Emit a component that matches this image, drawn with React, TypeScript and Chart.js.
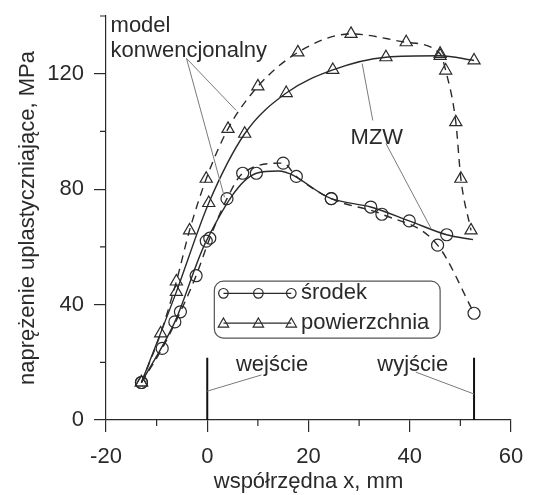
import React, { useEffect, useRef } from 'react';
import { Chart, registerables } from 'chart.js';

Chart.register(...registerables);

// ---- data ----
const surfaceConvX = [-13, -9.2, -6.1, -3.5, -0.2, 4.1, 10, 17.9, 28.4, 39.3, 46, 47.1, 49.1, 50.1, 52.1];
const surfaceConvY = [13, 30, 48, 65.7, 83.6, 100.9, 115.6, 127.4, 133.8, 130.9, 126.9, 121.1, 103.2, 83.6, 65.7];

const surfaceMzwX = [-13, -6.1, 0.3, 7.4, 15.6, 24.8, 35.3, 46, 52.7];
const surfaceMzwY = [13, 44.4, 75.2, 99.2, 113.3, 121.3, 125.7, 126.2, 124.6];

const centreConvX = [-13, -8.9, -5.3, -2.2, 0.5, 3.9, 7, 15, 17.6, 24.5, 34.5, 45.5, 52.7];
const centreConvY = [13, 24.8, 37.5, 50, 63, 76.7, 85.5, 89, 84.4, 76.7, 71.3, 60.6, 37];

const centreMzwX = [-13, -6.4, -0.2, 9.7, 14, 24.5, 32.3, 39.9, 47.3, 52.5];
const centreMzwY = [13, 34, 62, 85.5, 86.3, 76.7, 73.8, 69, 64.2, 62.5];
const centreMzwMarker = [1, 1, 1, 1, 0, 1, 1, 1, 1, 0];

const xMinorTicks = [-10, 10, 30, 50];
const yMinorTicks = [20, 60, 100, 140];
const zoneEdges = [0, 52.7];

const legendLabels = ['środek', 'powierzchnia'];
const noteModel = ['model', 'konwencjonalny'];
const noteMzw = 'MZW';
const noteEntry = 'wejście';
const noteExit = 'wyjście';

const xTitle = 'współrzędna x, mm';
const yTitle = 'naprężenie uplastyczniające, MPa';

const FAMILY = "'Liberation Sans', Arial, sans-serif";
const INK = '#2a2a2a';
const GUIDE = '#7a7a7a';

const pts = (xs: number[], ys: number[]) => xs.map((x, i) => ({ x, y: ys[i] }));

function drawTri(ctx: CanvasRenderingContext2D, x: number, y: number, r: number) {
  ctx.beginPath();
  ctx.moveTo(x, y - r);
  ctx.lineTo(x + 0.866 * r, y + 0.5 * r);
  ctx.lineTo(x - 0.866 * r, y + 0.5 * r);
  ctx.closePath();
  ctx.stroke();
}
function drawCirc(ctx: CanvasRenderingContext2D, x: number, y: number, r: number) {
  ctx.beginPath();
  ctx.arc(x, y, r, 0, Math.PI * 2);
  ctx.stroke();
}

const annotations = {
  id: 'annotations',
  afterDraw(chart: any) {
    const { ctx } = chart;
    const xs = chart.scales.x;
    const ys = chart.scales.y;
    const X = (v: number) => xs.getPixelForValue(v);
    const Y = (v: number) => ys.getPixelForValue(v);
    ctx.save();

    // minor ticks
    ctx.strokeStyle = INK;
    ctx.lineWidth = 1.2;
    ctx.beginPath();
    for (const v of yMinorTicks) {
      ctx.moveTo(X(-20) - 6, Y(v));
      ctx.lineTo(X(-20), Y(v));
    }
    for (const v of xMinorTicks) {
      ctx.moveTo(X(v), Y(0));
      ctx.lineTo(X(v), Y(0) + 6);
    }
    ctx.stroke();

    // entry / exit bars
    ctx.strokeStyle = '#111';
    ctx.lineWidth = 2;
    ctx.beginPath();
    for (const v of zoneEdges) {
      ctx.moveTo(X(v), Y(0));
      ctx.lineTo(X(v), Y(21.6));
    }
    ctx.stroke();

    // pointer lines
    ctx.strokeStyle = GUIDE;
    ctx.lineWidth = 1;
    ctx.beginPath();
    ctx.moveTo(X(-4.1), Y(125.3)); ctx.lineTo(X(5.7), Y(107.3));
    ctx.moveTo(X(-4.1), Y(125.3)); ctx.lineTo(X(3.4), Y(77.2));
    ctx.moveTo(X(32.7), Y(103.8)); ctx.lineTo(X(30.6), Y(123.5));
    ctx.moveTo(X(35.3), Y(95.8)); ctx.lineTo(X(44.2), Y(66.4));
    ctx.moveTo(X(10.7), Y(15.6)); ctx.lineTo(X(0), Y(10));
    ctx.moveTo(X(41.2), Y(16.6)); ctx.lineTo(X(52.7), Y(9));
    ctx.stroke();

    // texts
    ctx.fillStyle = INK;
    ctx.font = `22px ${FAMILY}`;
    ctx.textBaseline = 'middle';
    ctx.textAlign = 'left';
    ctx.fillText(noteModel[0], X(-19.1), Y(136.7));
    ctx.fillText(noteModel[1], X(-19.1), Y(128));
    ctx.textAlign = 'center';
    ctx.fillText(noteMzw, X(33.5), Y(97.9));
    ctx.fillText(noteEntry, X(12.8), Y(19));
    ctx.fillText(noteExit, X(40.6), Y(19));

    // legend box
    const bx = X(1.4), by = Y(48.1), bw = X(46) - X(1.4), bh = Y(28.4) - Y(48.1);
    ctx.strokeStyle = '#555';
    ctx.lineWidth = 1.2;
    ctx.beginPath();
    if ((ctx as any).roundRect) (ctx as any).roundRect(bx, by, bw, bh, 9);
    else ctx.rect(bx, by, bw, bh);
    ctx.stroke();

    const rows = [43.9, 33.6];
    const mx = [3.2, 10.1, 16.6];
    rows.forEach((ry, i) => {
      ctx.strokeStyle = INK;
      ctx.lineWidth = 1.3;
      ctx.beginPath();
      ctx.moveTo(X(mx[0]), Y(ry));
      ctx.lineTo(X(mx[2]), Y(ry));
      ctx.stroke();
      ctx.lineWidth = 1.2;
      for (const m of mx) {
        if (i === 0) drawCirc(ctx, X(m), Y(ry), 4.8);
        else drawTri(ctx, X(m), Y(ry) + 1, 6);
      }
      ctx.fillStyle = INK;
      ctx.textAlign = 'left';
      ctx.fillText(legendLabels[i], X(18.5), Y(ry));
    });

    ctx.restore();
  },
};

const noOverhang = (s: any) => {
  s.paddingTop = 0;
  s.paddingBottom = 0;
  s.paddingLeft = 0;
  s.paddingRight = 0;
};

export default function App() {
  const ref = useRef<HTMLCanvasElement>(null);

  useEffect(() => {
    const canvas = ref.current;
    if (!canvas) return;

    const common = {
      borderColor: INK,
      borderWidth: 1.4,
      pointBorderColor: INK,
      pointBackgroundColor: 'rgba(0,0,0,0)',
      pointBorderWidth: 1.2,
      cubicInterpolationMode: 'monotone' as const,
      fill: false,
    };

    const chart = new Chart(canvas, {
      type: 'line',
      data: {
        datasets: [
          {
            ...common,
            label: 'powierzchnia – model konwencjonalny',
            data: pts(surfaceConvX, surfaceConvY),
            borderDash: [8, 6],
            pointStyle: 'triangle',
            pointRadius: 7,
          },
          {
            ...common,
            label: 'powierzchnia – MZW',
            data: pts(surfaceMzwX, surfaceMzwY),
            pointStyle: 'triangle',
            pointRadius: 7,
          },
          {
            ...common,
            label: 'środek – model konwencjonalny',
            data: pts(centreConvX, centreConvY),
            borderDash: [8, 6],
            pointStyle: 'circle',
            pointRadius: 6,
          },
          {
            ...common,
            label: 'środek – MZW',
            data: pts(centreMzwX, centreMzwY),
            pointStyle: 'circle',
            pointRadius: centreMzwMarker.map((m) => (m ? 6 : 0)),
          },
        ],
      },
      options: {
        responsive: false,
        animation: false,
        devicePixelRatio: 1,
        layout: { padding: { left: 0, top: 16, right: 22, bottom: 0 } },
        plugins: {
          legend: { display: false },
          tooltip: { enabled: false },
        },
        scales: {
          x: {
            type: 'linear',
            min: -20,
            max: 60,
            ticks: {
              stepSize: 10,
              autoSkip: false,
              maxRotation: 0,
              padding: 12,
              color: INK,
              font: { family: FAMILY, size: 22, lineHeight: 1.2 },
              callback: (v: any) => (Number(v) % 20 === 0 ? String(v) : ''),
            },
            grid: {
              drawOnChartArea: false,
              drawTicks: true,
              tickLength: 12,
              lineWidth: 1.2,
              tickColor: (c: any) => (c.tick && c.tick.value % 20 === 0 ? INK : 'rgba(0,0,0,0)'),
            },
            border: { color: INK, width: 1.2 },
            title: {
              display: true,
              text: xTitle,
              color: INK,
              font: { family: FAMILY, size: 22, lineHeight: 1.2 },
              padding: { top: 0, bottom: 0 },
            },
            afterFit: (s: any) => {
              s.height = 75;
              noOverhang(s);
            },
          },
          y: {
            type: 'linear',
            min: 0,
            max: 140,
            ticks: {
              stepSize: 20,
              autoSkip: false,
              padding: 10,
              color: INK,
              font: { family: FAMILY, size: 22, lineHeight: 1.2 },
              callback: (v: any) => (Number(v) % 40 === 0 ? String(v) : ''),
            },
            grid: {
              drawOnChartArea: false,
              drawTicks: true,
              tickLength: 12,
              lineWidth: 1.2,
              tickColor: (c: any) => (c.tick && c.tick.value % 40 === 0 ? INK : 'rgba(0,0,0,0)'),
            },
            border: { color: INK, width: 1.2 },
            title: {
              display: true,
              text: yTitle,
              color: INK,
              font: { family: FAMILY, size: 22, lineHeight: 1.2 },
              padding: { top: 15, bottom: 0 },
            },
            afterFit: (s: any) => {
              s.width = 106;
              noOverhang(s);
            },
          },
        },
      },
      plugins: [annotations],
    });

    return () => chart.destroy();
  }, []);

  return (
    <div style={{ position: 'absolute', left: 0, top: 0, width: 533, height: 495, background: '#fff' }}>
      <canvas ref={ref} width={533} height={495} style={{ display: 'block', width: 533, height: 495 }} />
    </div>
  );
}
